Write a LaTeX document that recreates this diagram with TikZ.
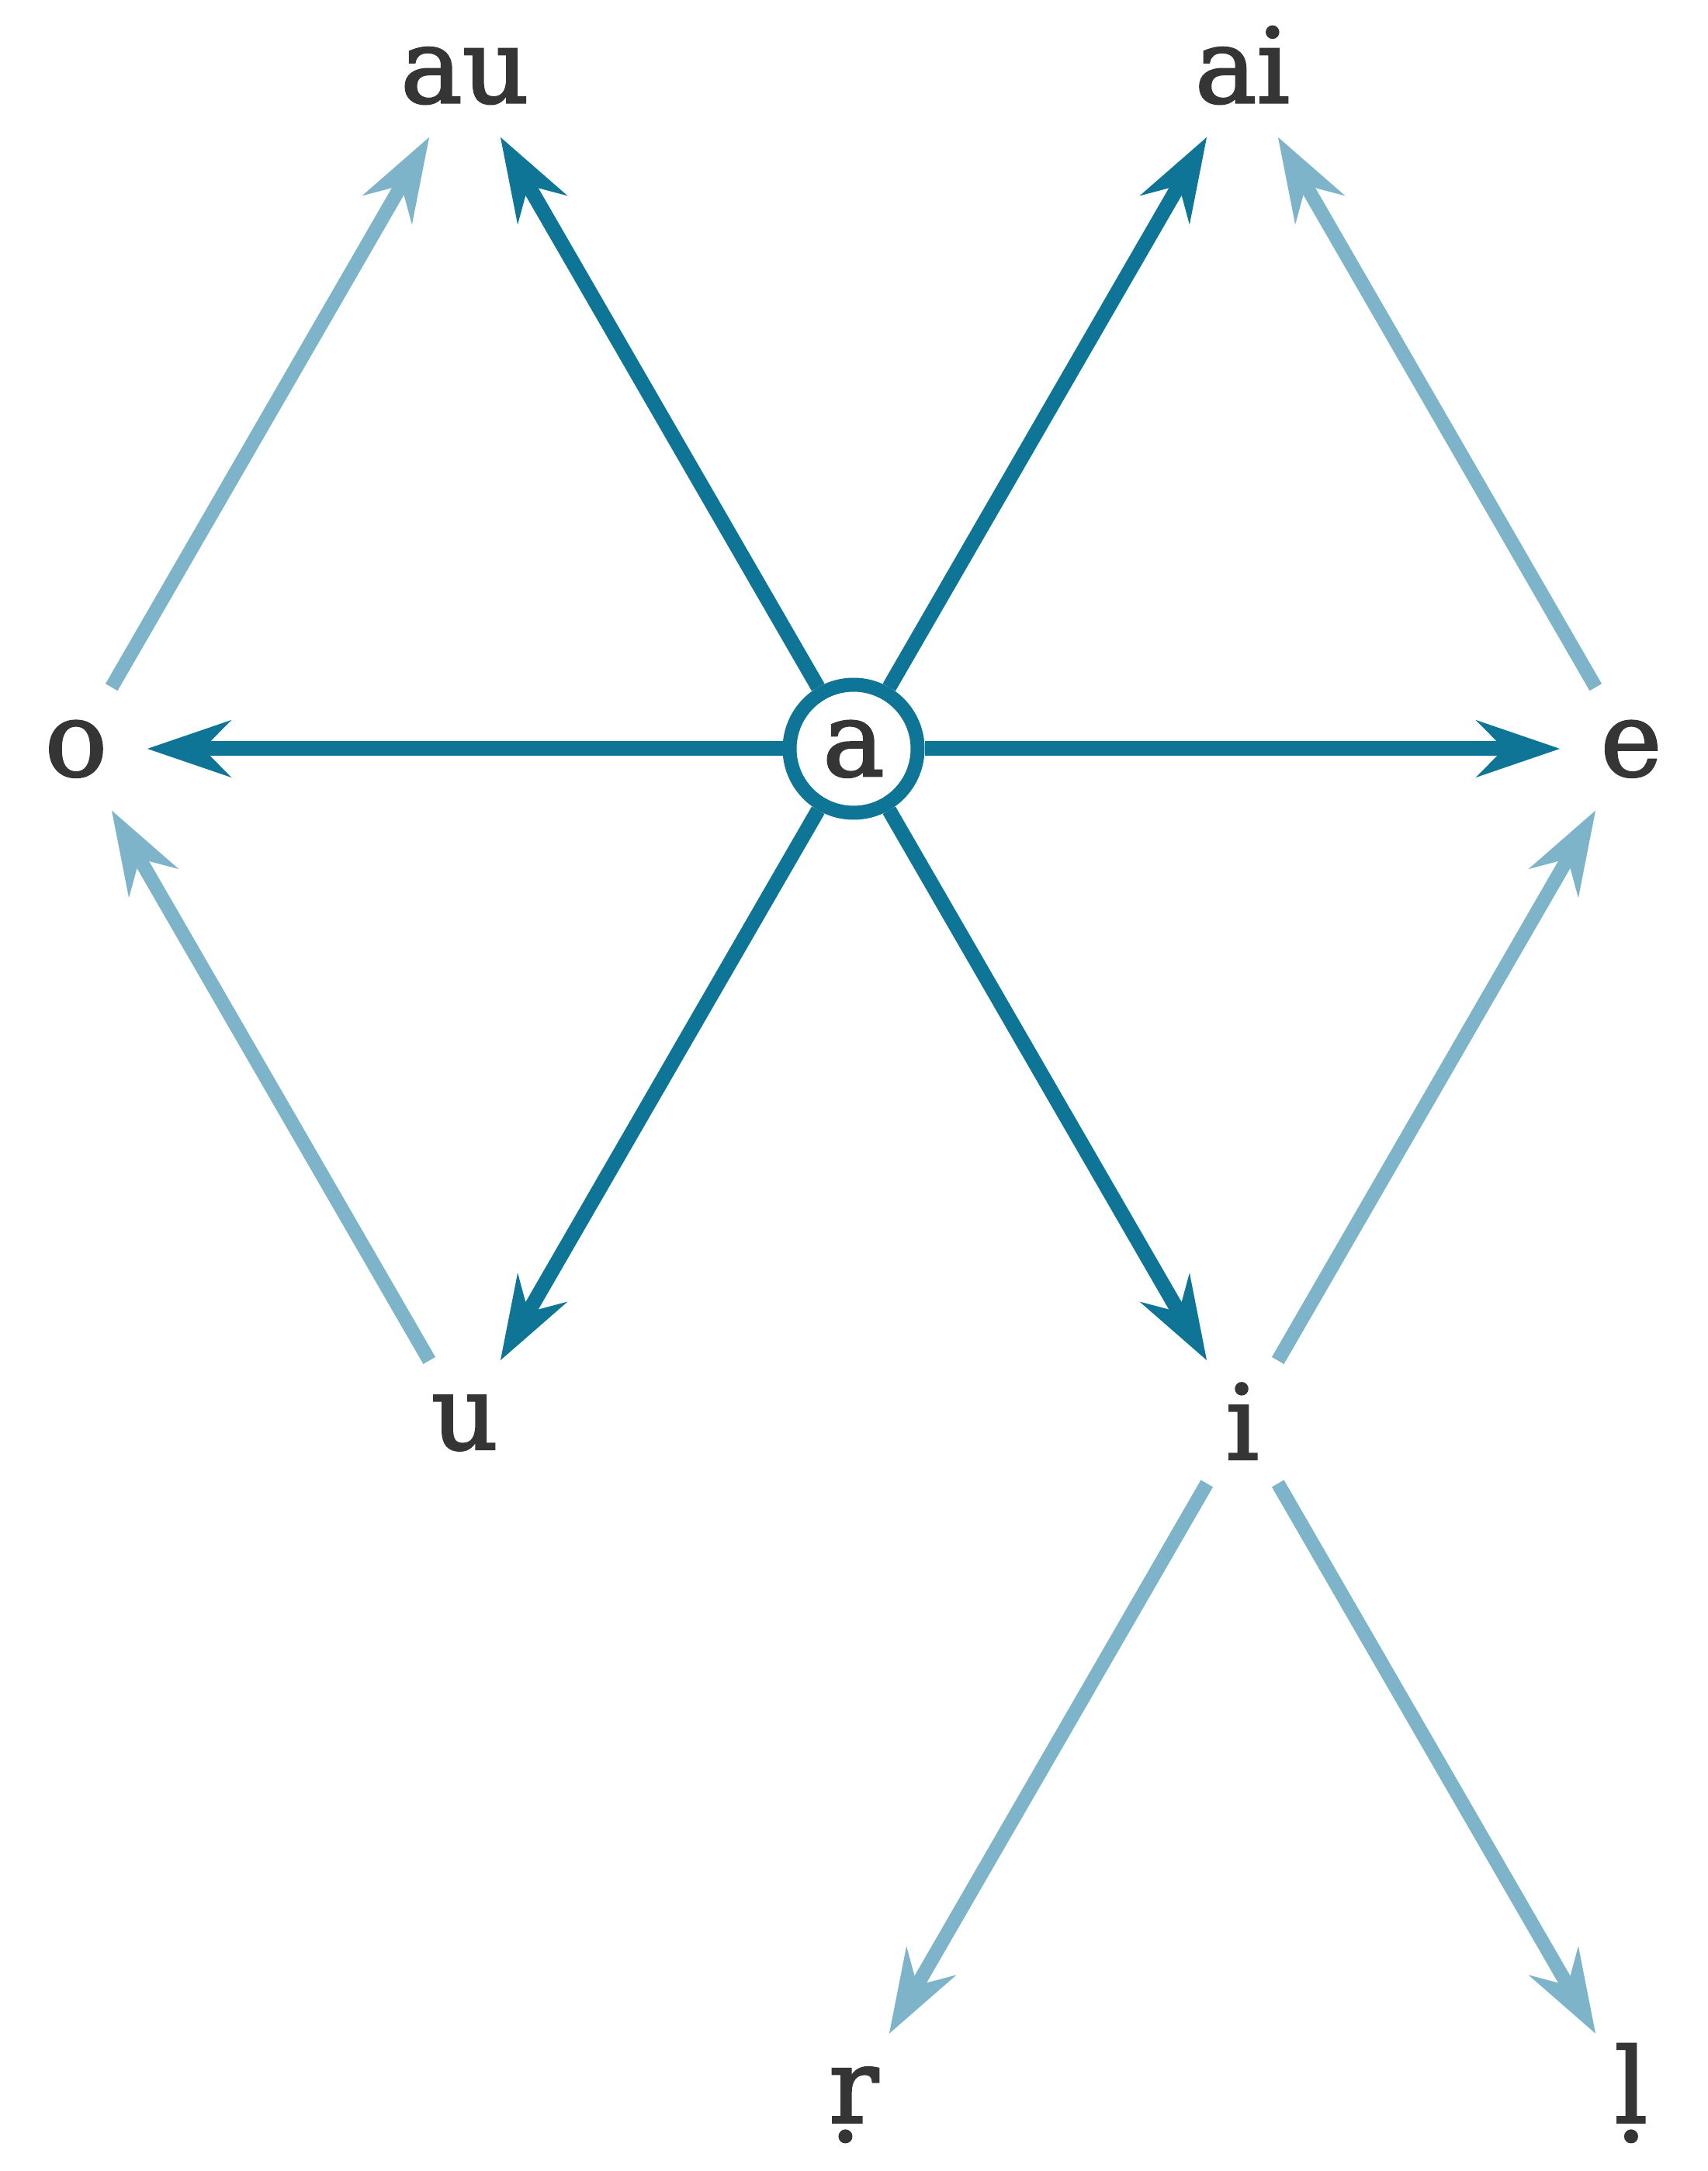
\documentclass[tikz,border=0pt]{standalone}
\usepackage{fontspec}
\setmainfont{DejaVu Serif}
\newfontfamily\lblfont[FakeBold=2]{DejaVu Serif}
\usetikzlibrary{arrows.meta}
\definecolor{dk}{HTML}{0E7596}
\definecolor{lt}{HTML}{7DB4C9}
\definecolor{tx}{HTML}{353535}
\newcommand\lab[1]{\makebox[0pt]{#1}}
\begin{document}
\begin{tikzpicture}[
  v/.style={circle, minimum size=1.65cm, inner sep=0pt, outer sep=0.09cm,
    line width=0.18cm, text=tx, font=\lblfont\fontsize{38}{45}\selectfont,
    text height=0.70cm, text depth=0pt},
  centre/.style={v, draw=dk, fill=white},
  tipdk/.style={-{Stealth[length=1.07cm,width=0.72cm,inset=0.35cm]}},
  darkarrow/.style={draw=dk, line width=0.19cm, tipdk},
  lightarrow/.style={draw=lt, line width=0.18cm, tipdk},
]
\useasboundingbox (-11,-18.33) rectangle (11,9.65);
\def\R{10.02}
\def\H{8.677}
\node[v] (o)  at (-\R,0) {\lab{o}};
\node[v] (e)  at (\R,0) {\lab{e}};
\node[v] (au) at (-\R/2,\H) {\lab{au}};
\node[v] (ai) at (\R/2,\H) {\lab{ai}};
\node[v] (u)  at (-\R/2,-\H) {\lab{u}};
\node[v] (i)  at (\R/2,-\H) {\lab{\raisebox{-0.13cm}{i}}};
\node[v] (r)  at (0,-2*\H) {\lab{ṛ}};
\node[v] (l)  at (\R,-2*\H) {\lab{ḷ}};
\node[centre] (a) at (0,0) {\lab{a}};
\foreach \t in {o,e,au,ai,u,i}
  \draw[darkarrow] (a) -- (\t);
\draw[lightarrow] (o) -- (au);
\draw[lightarrow] (e) -- (ai);
\draw[lightarrow] (u) -- (o);
\draw[lightarrow] (i) -- (e);
\draw[lightarrow] (i) -- (r);
\draw[lightarrow] (i) -- (l);
\end{tikzpicture}
\end{document}
